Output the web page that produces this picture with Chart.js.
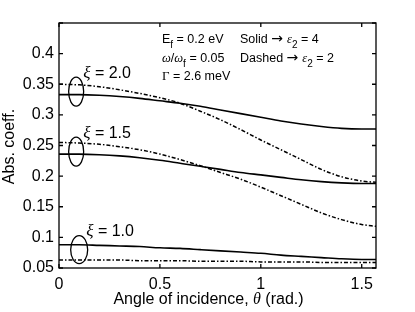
<!doctype html>
<html lang="en">
<head>
<meta charset="utf-8" />
<title>Abs. coeff. vs angle of incidence</title>
<style>
  html,body{margin:0;padding:0;background:#fff}
  canvas{display:block}
</style>
<script src="https://cdn.jsdelivr.net/npm/chart.js@4.4.1/dist/chart.umd.min.js"></script>
</head>
<body>
<canvas id="c" width="415" height="312"></canvas>
<script>
// angle of incidence (rad.)
const theta = [0, 0.1, 0.2, 0.3, 0.4, 0.5, 0.6, 0.7, 0.8, 0.9, 1.0, 1.1, 1.2, 1.3, 1.4, 1.5, 1.5708];

// solid -> eps2 = 4, dashed -> eps2 = 2
const xi20Solid  = [0.333, 0.333, 0.332, 0.330, 0.327, 0.323, 0.319, 0.314, 0.308, 0.302, 0.296, 0.290, 0.285, 0.281, 0.278, 0.277, 0.277];
const xi20Dashed = [0.350, 0.349, 0.346, 0.341, 0.335, 0.328, 0.319, 0.306, 0.292, 0.276, 0.259, 0.243, 0.227, 0.211, 0.199, 0.192, 0.190];
const xi15Solid  = [0.236, 0.236, 0.235, 0.233, 0.230, 0.226, 0.221, 0.216, 0.211, 0.206, 0.202, 0.198, 0.194, 0.191, 0.189, 0.188, 0.188];
const xi15Dashed = [0.255, 0.254, 0.252, 0.248, 0.243, 0.236, 0.227, 0.217, 0.206, 0.195, 0.182, 0.168, 0.154, 0.140, 0.129, 0.121, 0.118];
const xi10Solid  = [0.088, 0.088, 0.087, 0.086, 0.085, 0.083, 0.082, 0.080, 0.078, 0.076, 0.074, 0.071, 0.069, 0.067, 0.065, 0.064, 0.064];
const xi10Dashed = [0.063, 0.063, 0.063, 0.063, 0.062, 0.062, 0.062, 0.061, 0.061, 0.061, 0.060, 0.060, 0.060, 0.059, 0.059, 0.059, 0.059];

const xTicks = [0, 0.5, 1, 1.5];
const yTicks = [0.05, 0.1, 0.15, 0.2, 0.25, 0.3, 0.35, 0.4, 0.45];

// curve group markers: label, ellipse centre (theta, value)
const groupLabels = ["\u03be = 2.0", "\u03be = 1.5", "\u03be = 1.0"];
const groupTheta  = [0.085, 0.085, 0.1];
const groupValue  = [0.338, 0.240, 0.080];

const SANS = '"Liberation Sans", Arial, Helvetica, sans-serif';
const SERIF = '"Liberation Serif", "DejaVu Serif", serif';

const pts = arr => theta.map((t, i) => ({ x: t, y: arr[i] }));
const solid = arr => ({ data: pts(arr), borderColor: '#000', borderWidth: 1.6, pointRadius: 0, cubicInterpolationMode: 'monotone' });
const dashed = arr => ({ data: pts(arr), borderColor: '#000', borderWidth: 1.5, borderDash: [4, 2, 1.5, 2], pointRadius: 0, cubicInterpolationMode: 'monotone' });

// draw a run of [text, font, dy, dxAfter] pieces left to right
function rich(ctx, parts, x, y) {
  for (const [txt, font, dy, gap] of parts) {
    ctx.font = font;
    ctx.fillText(txt, x, y + (dy || 0));
    x += ctx.measureText(txt).width + (gap || 0);
  }
}

const decor = {
  id: 'decor',
  afterDraw(chart) {
    const { ctx, chartArea: a, scales: { x, y } } = chart;
    ctx.save();
    ctx.strokeStyle = '#000';
    ctx.fillStyle = '#000';

    // box + inward ticks
    ctx.lineWidth = 1.3;
    ctx.strokeRect(a.left, a.top, a.right - a.left, a.bottom - a.top);
    const tl = 4;
    ctx.beginPath();
    xTicks.forEach(v => {
      const px = x.getPixelForValue(v);
      ctx.moveTo(px, a.bottom); ctx.lineTo(px, a.bottom - tl);
      ctx.moveTo(px, a.top); ctx.lineTo(px, a.top + tl);
    });
    yTicks.forEach(v => {
      const py = y.getPixelForValue(v);
      ctx.moveTo(a.left, py); ctx.lineTo(a.left + tl, py);
      ctx.moveTo(a.right, py); ctx.lineTo(a.right - tl, py);
    });
    ctx.stroke();

    // ellipses round the curve pairs + xi labels
    ctx.lineWidth = 1.3;
    groupLabels.forEach((lab, i) => {
      const cx = x.getPixelForValue(groupTheta[i]);
      const cy = y.getPixelForValue(groupValue[i]);
      const rx = i === 2 ? 8.5 : 7.5, ry = i === 2 ? 14 : 14.5;
      ctx.beginPath();
      ctx.ellipse(cx, cy, rx, ry, 0, 0, Math.PI * 2);
      ctx.stroke();
      ctx.textBaseline = 'alphabetic';
      ctx.textAlign = 'left';
      const lx = cx + 7, ly = cy - 14;
      rich(ctx, [[lab[0], 'italic 17px ' + SERIF], [lab.slice(1), '16px ' + SANS]], lx, ly);
    });

    // parameter notes
    ctx.textAlign = 'left';
    ctx.textBaseline = 'alphabetic';
    const f = '12.5px ' + SANS, sub = '10px ' + SANS, it = 'italic 12.5px ' + SERIF;
    const arrow = ['\u2192', '14px "DejaVu Sans"', -0.5, 4];
    rich(ctx, [['E', f], ['f', sub, 5], [' = 0.2 eV', f]], 162, 43);
    rich(ctx, [['\u03c9', it], ['/', f], ['\u03c9', it], ['f', sub, 5], [' = 0.05', f]], 162, 62);
    rich(ctx, [['\u0393', '13px ' + SERIF], [' = 2.6 meV', f]], 162, 80);
    rich(ctx, [['Solid ', f], arrow, ['\u03b5', it], ['2', sub, 5], [' = 4', f]], 240, 43);
    rich(ctx, [['Dashed ', f], arrow, ['\u03b5', it], ['2', sub, 5], [' = 2', f]], 240, 62);

    // axis titles
    ctx.textBaseline = 'middle';
    ctx.textAlign = 'left';
    const xt = [['Angle of incidence, ', '16px ' + SANS], ['\u03b8', 'italic 16px ' + SERIF], [' (rad.)', '16px ' + SANS]];
    let w = 0;
    xt.forEach(([t, fo]) => { ctx.font = fo; w += ctx.measureText(t).width; });
    rich(ctx, xt, 208.5 - w / 2, 300);

    ctx.translate(10, (a.top + a.bottom) / 2 + 1);
    ctx.rotate(-Math.PI / 2);
    ctx.textAlign = 'center';
    ctx.font = '16px ' + SANS;
    ctx.fillText('Abs. coeff.', 0, 0);
    ctx.restore();
  }
};

new Chart(document.getElementById('c'), {
  type: 'line',
  data: {
    datasets: [
      solid(xi20Solid), dashed(xi20Dashed),
      solid(xi15Solid), dashed(xi15Dashed),
      solid(xi10Solid), dashed(xi10Dashed)
    ]
  },
  options: {
    responsive: false,
    animation: false,
    devicePixelRatio: 1,
    layout: { padding: { left: 0, top: 23, right: 39, bottom: 0 } },
    plugins: { legend: { display: false }, tooltip: { enabled: false } },
    scales: {
      x: {
        type: 'linear', min: 0, max: Math.PI / 2,
        afterBuildTicks: s => { s.ticks = xTicks.map(v => ({ value: v })); },
        afterFit: s => { s.height = 44; },
        grid: { display: false, drawTicks: false },
        border: { display: false },
        ticks: { color: '#000', padding: 7, font: { family: SANS, size: 16 }, maxRotation: 0, callback: v => String(v) }
      },
      y: {
        type: 'linear', min: 0.05, max: 0.45,
        afterBuildTicks: s => { s.ticks = yTicks.map(v => ({ value: v })); },
        afterFit: s => { s.width = 59; },
        grid: { display: false, drawTicks: false },
        border: { display: false },
        ticks: { color: '#000', padding: 5, font: { family: SANS, size: 16 }, callback: v => v > 0.44 ? '' : String(+v.toFixed(2)) }
      }
    }
  },
  plugins: [decor]
});
</script>
</body>
</html>
